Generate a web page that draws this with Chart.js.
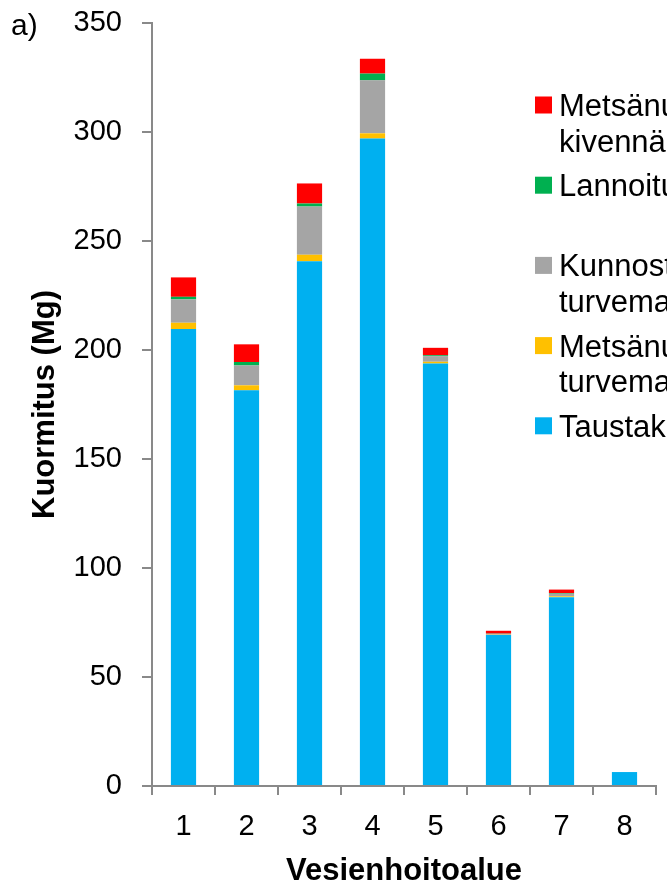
<!DOCTYPE html>
<html>
<head>
<meta charset="utf-8">
<script src="https://cdn.jsdelivr.net/npm/chart.js@4"></script>
<style>
  html, body { margin: 0; padding: 0; background: #fff; }
  #wrap { width: 667px; height: 885px; }
</style>
</head>
<body>
<div id="wrap"><canvas id="c" width="667" height="885"></canvas></div>
<script>
// Water management areas (x axis)
const categories = ['1', '2', '3', '4', '5', '6', '7', '8'];

// Loads per area, Mg (stack order bottom to top)
const taustakuormitus   = [209.6, 181.5, 240.7, 297.0, 193.8, 69.3, 86.6, 6.4];
const metsTurvemaat     = [2.9, 2.3, 3.0, 2.4, 0.8, 0.1, 0.4, 0];
const kunnostusTurve    = [10.7, 9.1, 22.1, 24.3, 2.6, 0.4, 1.2, 0];
const lannoitus         = [1.2, 1.6, 1.4, 3.1, 0.4, 0.1, 0.3, 0];
const metsKivennaismaat = [8.9, 8.1, 9.2, 6.8, 3.4, 1.3, 1.6, 0];

// Y axis tick values
const yTicks = [0, 50, 100, 150, 200, 250, 300, 350];

const seriesLabels = [
  'Taustakuormitus',
  'Metsänuudistaminen,\nturvemaat',
  'Kunnostusojitus,\nturvemaat',
  'Lannoitus',
  'Metsänuudistaminen,\nkivennäismaat'
];
const seriesColors = ['#00B0F0', '#FFC000', '#A5A5A5', '#00B050', '#FF0000'];
const seriesData = [taustakuormitus, metsTurvemaat, kunnostusTurve, lannoitus, metsKivennaismaat];

const axisColor = '#898989';
const FONT = "'Liberation Sans', Arial, sans-serif";

// Legend drawn inside the plot area, top entry first
const sideLegend = {
  id: 'sideLegend',
  afterDraw(chart) {
    const ctx = chart.ctx;
    ctx.save();
    ctx.font = '31px ' + FONT;
    ctx.fillStyle = '#000';
    ctx.textBaseline = 'alphabetic';
    ctx.textAlign = 'left';
    const ds = chart.data.datasets.slice().reverse();
    ds.forEach((d, i) => {
      const cy = 105 + i * 80.2;
      ctx.fillStyle = d.backgroundColor;
      ctx.fillRect(535, cy - 8.5, 17, 17);
      ctx.fillStyle = '#000';
      d.label.split('\n').forEach((line, j) => {
        ctx.fillText(line, 559, cy + 11 + j * 35.7);
      });
    });
    // panel letter
    ctx.font = '30px ' + FONT;
    ctx.fillText('a)', 11, 35);
    ctx.restore();
  }
};

new Chart(document.getElementById('c'), {
  type: 'bar',
  data: {
    labels: categories,
    datasets: seriesData.map((vals, i) => ({
      label: seriesLabels[i],
      data: vals,
      backgroundColor: seriesColors[i],
      borderWidth: 0,
      categoryPercentage: 0.4,
      barPercentage: 1.0
    }))
  },
  options: {
    responsive: false,
    animation: false,
    devicePixelRatio: 1,
    layout: { padding: { left: 0, right: 11, top: 23, bottom: 0 } },
    plugins: {
      legend: { display: false },
      tooltip: { enabled: false }
    },
    scales: {
      x: {
        stacked: true,
        grid: {
          drawOnChartArea: false,
          drawTicks: true,
          tickLength: 9,
          color: axisColor,
          lineWidth: 2,
          offset: true
        },
        border: { color: axisColor, width: 2 },
        ticks: {
          color: '#000',
          font: { family: FONT, size: 29 },
          padding: 15,
          maxRotation: 0
        },
        title: {
          display: true,
          text: 'Vesienhoitoalue',
          color: '#000',
          font: { family: FONT, size: 31, weight: 'bold', lineHeight: 1 },
          padding: { top: 0, bottom: -2 }
        },
        afterFit(scale) { scale.height = 99; }
      },
      y: {
        stacked: true,
        min: 0,
        max: 350,
        afterBuildTicks(scale) { scale.ticks = yTicks.map(v => ({ value: v })); },
        grid: {
          drawOnChartArea: false,
          drawTicks: true,
          tickLength: 10,
          color: axisColor,
          lineWidth: 2
        },
        border: { color: axisColor, width: 2 },
        ticks: {
          color: '#000',
          font: { family: FONT, size: 29 },
          padding: 20
        },
        title: {
          display: true,
          text: 'Kuormitus (Mg)',
          color: '#000',
          font: { family: FONT, size: 31, weight: 'bold', lineHeight: 1 },
          padding: { top: 30, bottom: 0 }
        },
        afterFit(scale) {
          scale.width = 152;
          scale.paddingTop = 0;
          scale.paddingBottom = 0;
        }
      }
    }
  },
  plugins: [sideLegend]
});
</script>
</body>
</html>
